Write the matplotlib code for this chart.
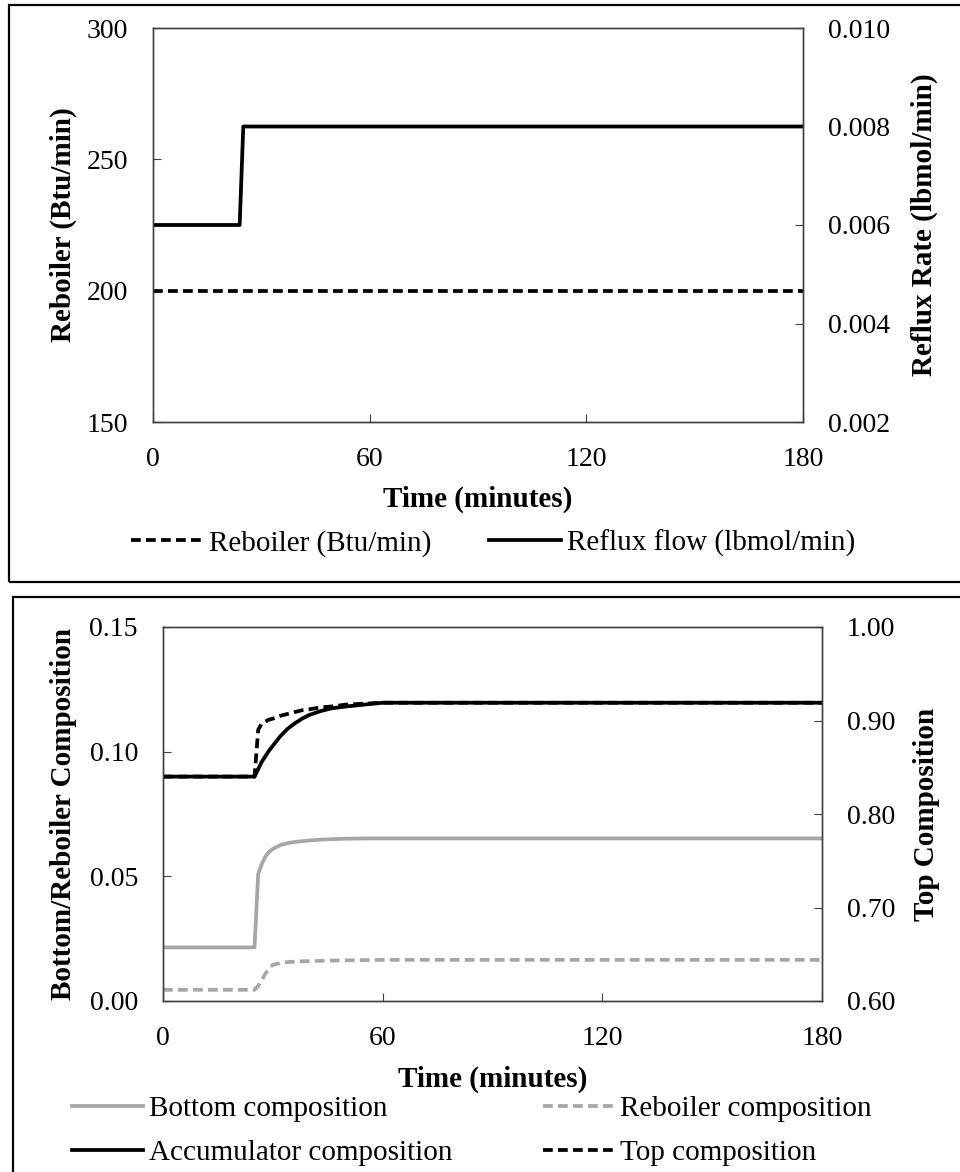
import numpy as np
import matplotlib
matplotlib.use('Agg')
import matplotlib.pyplot as plt
from matplotlib.patches import Rectangle
from matplotlib.lines import Line2D
from matplotlib.ticker import FormatStrFormatter

plt.rcParams['font.family'] = ['Liberation Serif', 'DejaVu Serif']

# Panel 1: reboiler duty and reflux step
time_step = [0, 24, 25, 180]
reflux_flow = [0.006, 0.006, 0.008, 0.008]
time_duty = [0, 180]
reboiler_duty = [200, 200]

# Panel 2: compositions
time_comp = [0, 25, 26, 27, 28, 29, 30, 32, 34, 36, 38, 40, 43, 46, 50, 55, 60, 180]
bottom_comp = [0.0215, 0.0215, 0.051, 0.055, 0.058, 0.0598, 0.061, 0.0625, 0.0633, 0.0638,
               0.0641, 0.0644, 0.0647, 0.0649, 0.0651, 0.0652, 0.0652, 0.0652]
reboiler_comp = [0.0045, 0.0045, 0.006, 0.0085, 0.011, 0.0132, 0.0145, 0.0152, 0.0156, 0.0158,
                 0.0159, 0.016, 0.0161, 0.0162, 0.0163, 0.0164, 0.0165, 0.0165]
accum_comp = [0.84, 0.84, 0.848, 0.856, 0.862, 0.868, 0.873, 0.883, 0.891, 0.897,
              0.902, 0.906, 0.910, 0.913, 0.915, 0.917, 0.919, 0.919]
top_comp = [0.84, 0.84, 0.89, 0.897, 0.899, 0.901, 0.902, 0.905, 0.907, 0.909,
            0.911, 0.912, 0.914, 0.915, 0.917, 0.918, 0.919, 0.919]

W, H = 960, 1172
GRAY = '#A6A6A6'
SPINE = '#404040'
LW = 2.7
DASH = (0, (2.6, 1.4))
TICK_FS = 20
LAB_FS = 21


def px_axes(fig, left, top, right, bottom):
    return fig.add_axes([left / W, 1 - bottom / H, (right - left) / W, (bottom - top) / H])


def style_axis(ax):
    for s in ax.spines.values():
        s.set_color(SPINE)
        s.set_linewidth(1.0)
    ax.tick_params(direction='in', length=6, width=0.8, color=SPINE, labelsize=TICK_FS, pad=18)


fig = plt.figure(figsize=(W / 100, H / 100), dpi=100)

# panel borders (right / bottom edges run off the picture)
fig.patches.append(Rectangle((9 / W, 1 - 582 / H), 1.2, 577 / H, transform=fig.transFigure,
                             fill=False, lw=1.6, ec='black', clip_on=False))
fig.patches.append(Rectangle((13 / W, -0.2), 1.2, 0.2 + 1 - 597 / H, transform=fig.transFigure,
                             fill=False, lw=1.6, ec='black', clip_on=False))

# ---- top panel ----
ax1 = px_axes(fig, 153, 28, 803, 422)
ax1.plot(time_duty, reboiler_duty, color='black', lw=LW, ls=DASH)
ax1.set_xlim(0, 180)
ax1.set_ylim(150, 300)
ax1.set_xticks([0, 60, 120, 180])
ax1.set_yticks([150, 200, 250, 300])
ax1.set_ylabel('Reboiler (Btu/min)', fontsize=LAB_FS, fontweight='bold')
ax1.yaxis.set_label_coords(-0.117, 0.5)
ax1.set_xlabel('Time (minutes)', fontsize=LAB_FS, fontweight='bold')
ax1.xaxis.set_label_coords(0.5, -0.162)
style_axis(ax1)

ax2 = ax1.twinx()
ax2.plot(time_step, reflux_flow, color='black', lw=LW)
ax2.set_ylim(0.002, 0.010)
ax2.set_yticks([0.002, 0.004, 0.006, 0.008, 0.010])
ax2.yaxis.set_major_formatter(FormatStrFormatter('%.3f'))
ax2.set_ylabel('Reflux Rate (lbmol/min)', fontsize=LAB_FS, fontweight='bold')
ax2.yaxis.set_label_coords(1.165, 0.5)
style_axis(ax2)

h_top = [Line2D([], [], color='black', lw=LW, ls=DASH), Line2D([], [], color='black', lw=LW)]
fig.legend(h_top, ['Reboiler (Btu/min)', 'Reflux flow (lbmol/min)'], ncol=2, frameon=False,
           loc='center', bbox_to_anchor=(493 / W, 1 - 543 / H), fontsize=LAB_FS,
           handlelength=2.45, handletextpad=0.2, columnspacing=2.0, borderpad=0)

# ---- bottom panel ----
ax3 = px_axes(fig, 163, 627, 822, 1001)
ax3.plot(time_comp, bottom_comp, color=GRAY, lw=LW)
ax3.plot(time_comp, reboiler_comp, color=GRAY, lw=LW, ls=DASH)
ax3.set_xlim(0, 180)
ax3.set_ylim(0, 0.15)
ax3.set_xticks([0, 60, 120, 180])
ax3.set_yticks([0, 0.05, 0.10, 0.15])
ax3.yaxis.set_major_formatter(FormatStrFormatter('%.2f'))
ax3.set_ylabel('Bottom/Reboiler Composition', fontsize=LAB_FS, fontweight='bold')
ax3.yaxis.set_label_coords(-0.1305, 0.5)
ax3.set_xlabel('Time (minutes)', fontsize=LAB_FS, fontweight='bold')
ax3.xaxis.set_label_coords(0.5, -0.174)
style_axis(ax3)

ax4 = ax3.twinx()
ax4.plot(time_comp, accum_comp, color='black', lw=LW)
ax4.plot(time_comp, top_comp, color='black', lw=LW, ls=DASH)
ax4.set_ylim(0.6, 1.0)
ax4.set_yticks([0.6, 0.7, 0.8, 0.9, 1.0])
ax4.yaxis.set_major_formatter(FormatStrFormatter('%.2f'))
ax4.set_ylabel('Top Composition', fontsize=LAB_FS, fontweight='bold')
ax4.yaxis.set_label_coords(1.138, 0.5)
style_axis(ax4)

h_bot = [Line2D([], [], color=GRAY, lw=LW), Line2D([], [], color='black', lw=LW),
         Line2D([], [], color=GRAY, lw=LW, ls=DASH), Line2D([], [], color='black', lw=LW, ls=DASH)]
fig.legend(h_bot, ['Bottom composition', 'Accumulator composition',
                   'Reboiler composition', 'Top composition'],
           ncol=2, frameon=False, loc='center', bbox_to_anchor=(472 / W, 1 - 1131 / H),
           fontsize=LAB_FS, handlelength=2.45, handletextpad=0.2, columnspacing=3.1,
           labelspacing=0.6, borderpad=0)

fig.savefig('out.png', dpi=100, facecolor='white')
